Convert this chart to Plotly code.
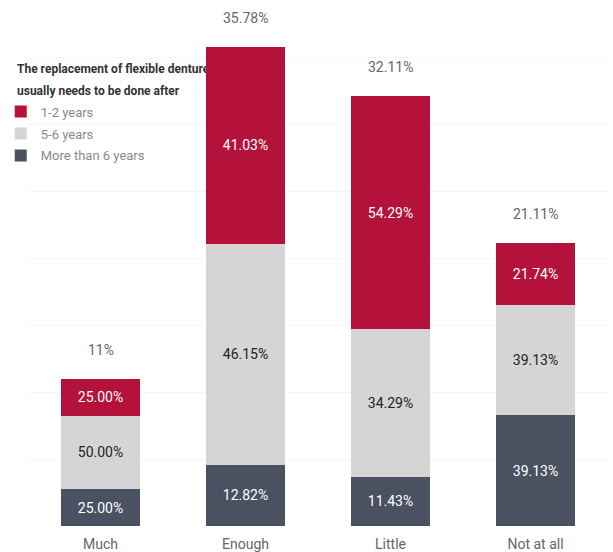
import plotly.graph_objects as go

# Perception of how often flexible dentures need replacing, by group
categories = ["Much", "Enough", "Little", "Not at all"]
totals = [11, 35.78, 32.11, 21.11]          # share of respondents in each group (%)
total_labels = ["11%", "35.78%", "32.11%", "21.11%"]

# Within-group distribution of answers (%)
share_1_2 = [25.00, 41.03, 54.29, 21.74]
share_5_6 = [50.00, 46.15, 34.29, 39.13]
share_6_plus = [25.00, 12.82, 11.43, 39.13]

legend_title_lines = ["The replacement of flexible dentures", "usually needs to be done after"]

colors = {"1-2 years": "#b4123b", "5-6 years": "#d5d5d5", "More than 6 years": "#4a5161"}
text_colors = {"1-2 years": "#ffffff", "5-6 years": "#222222", "More than 6 years": "#ffffff"}

FONT = "Roboto, Arial, sans-serif"

fig = go.Figure()

# Stack from the bottom: more than 6 years, 5-6 years, 1-2 years
stack = [
    ("More than 6 years", share_6_plus, 3),
    ("5-6 years", share_5_6, 2),
    ("1-2 years", share_1_2, 1),
]
for name, shares, rank in stack:
    heights = [t * s / 100 for t, s in zip(totals, shares)]
    fig.add_trace(go.Bar(
        x=categories,
        y=heights,
        name=name,
        legendgroup=name,
        customdata=shares,
        texttemplate="%{customdata:.2f}%",
        textposition="inside",
        insidetextanchor="middle",
        textangle=0,
        constraintext="none",
        insidetextfont=dict(family=FONT, size=14, color=text_colors[name]),
        marker=dict(color=colors[name], line=dict(width=0)),
        width=0.54,
        legendrank=rank,
        hoverinfo="skip",
    ))

# Group totals above each bar
for cat, tot, lab in zip(categories, totals, total_labels):
    fig.add_annotation(
        x=cat, y=tot, text=lab, showarrow=False,
        yshift=29, yanchor="middle",
        font=dict(family=FONT, size=14, color="#666666"),
    )

# Legend heading, drawn beneath the bars so the tall bar clips it
PLOT_H = 528.0
PLOT_W = 580.0
for line, ypx in zip(legend_title_lines, [68, 90]):
    yc = 1 - ypx / PLOT_H
    fig.add_shape(
        type="rect", xref="paper", yref="paper", layer="below",
        x0=(14 - 28) / PLOT_W, x1=(300 - 28) / PLOT_W,
        y0=yc - 0.01, y1=yc + 0.01,
        line=dict(width=0), fillcolor="rgba(0,0,0,0)",
        label=dict(
            text="<b>" + line + "</b>", textposition="middle left", padding=0,
            font=dict(family=FONT, size=12, color="#333333"),
        ),
    )

fig.update_layout(
    barmode="stack",
    width=613, height=552,
    margin=dict(l=28, r=5, t=0, b=24),
    paper_bgcolor="white",
    plot_bgcolor="white",
    font=dict(family=FONT, size=14, color="#666666"),
    showlegend=True,
    legend=dict(
        x=-0.047, y=1 - 97 / PLOT_H, xanchor="left", yanchor="top",
        traceorder="grouped",
        bgcolor="rgba(0,0,0,0)",
        font=dict(family=FONT, size=13, color="#8a8a8a"),
        itemwidth=30,
        tracegroupgap=2,
    ),
    xaxis=dict(
        showline=False, showgrid=False, zeroline=False,
        ticks="", ticklabelstandoff=8,
        tickfont=dict(family=FONT, size=14, color="#666666"),
    ),
    yaxis=dict(
        range=[0, 39.29], dtick=5,
        showgrid=True, gridcolor="#f5f5f5", gridwidth=1,
        zeroline=False, showline=False, showticklabels=False, ticks="",
    ),
)

fig.write_html("out.html")
